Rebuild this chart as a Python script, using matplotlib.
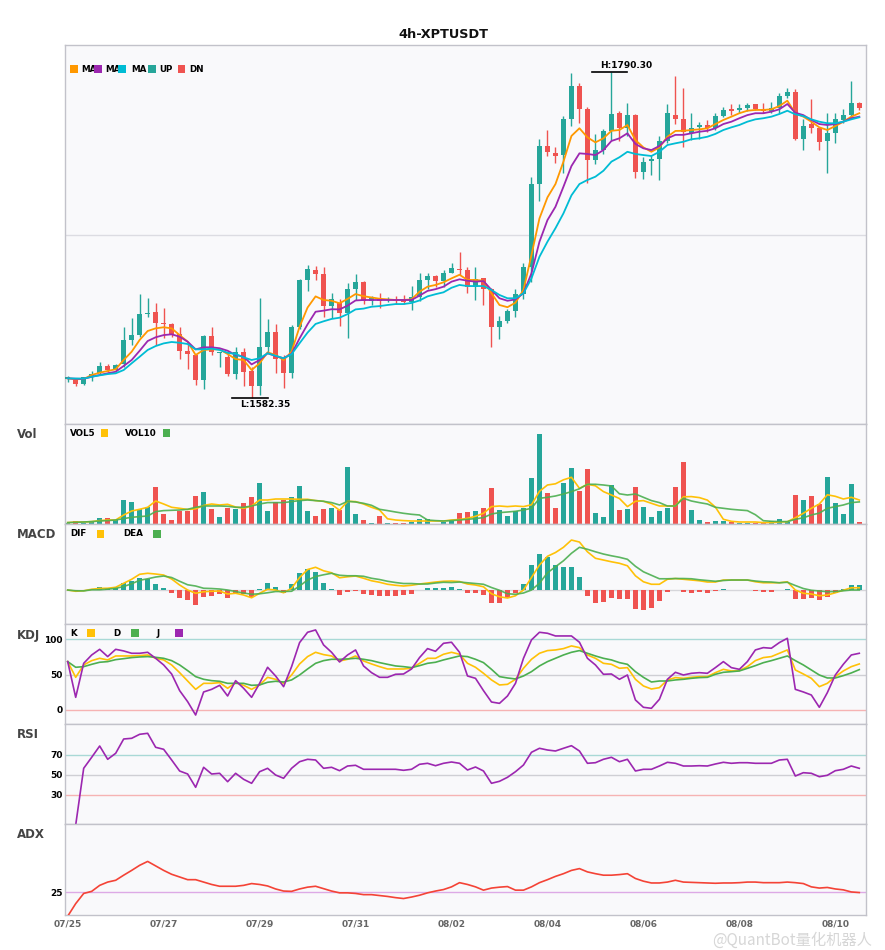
import numpy as np
import matplotlib
matplotlib.use('Agg')
import matplotlib.pyplot as plt
from matplotlib.patches import Rectangle

# ---------------- data ----------------
title = '4h-XPTUSDT'
tick_labels = ['07/25', '07/27', '07/29', '07/31', '08/02', '08/04', '08/06', '08/08', '08/10']

open_ = [1593.9, 1593.5, 1591.0, 1595.4, 1597.8, 1602.5, 1599.9, 1603.7, 1619.1, 1622.2,
         1635.8, 1636.9, 1629.5, 1629.3, 1622.9, 1612.2, 1609.5, 1593.7, 1621.6, 1610.5,
         1608.4, 1597.6, 1611.2, 1599.3, 1589.7, 1614.8, 1624.2, 1606.7, 1598.2, 1627.2,
         1657.4, 1663.7, 1661.2, 1641.0, 1642.9, 1636.1, 1651.6, 1656.1, 1644.0, 1645.0,
         1644.4, 1645.0, 1644.8, 1643.3, 1646.7, 1657.4, 1659.9, 1656.9, 1661.8, 1664.2,
         1663.7, 1653.1, 1658.4, 1651.4, 1627.5, 1631.4, 1637.8, 1648.4, 1665.8, 1718.6,
         1742.9, 1738.2, 1737.1, 1759.9, 1781.2, 1766.7, 1734.0, 1740.3, 1752.5, 1764.1,
         1754.2, 1762.6, 1726.5, 1733.3, 1734.4, 1746.3, 1762.6, 1760.1, 1751.0, 1755.2,
         1756.3, 1754.2, 1762.0, 1766.5, 1765.9, 1767.0, 1769.7, 1766.5, 1765.5, 1767.4,
         1774.8, 1777.5, 1747.3, 1756.9, 1754.4, 1746.3, 1751.0, 1759.5, 1762.6, 1770.5]
high = [1596.1, 1594.2, 1595.6, 1599.3, 1605.0, 1603.5, 1603.7, 1627.2, 1633.0, 1648.4,
        1645.7, 1642.5, 1639.3, 1630.1, 1627.2, 1618.0, 1609.8, 1622.2, 1627.5, 1611.6,
        1611.6, 1614.4, 1613.8, 1601.6, 1645.7, 1632.3, 1629.1, 1609.5, 1628.6, 1658.0,
        1667.0, 1666.3, 1665.5, 1649.2, 1645.0, 1655.2, 1661.4, 1656.6, 1647.1, 1648.9,
        1646.3, 1647.1, 1647.8, 1653.5, 1661.6, 1662.0, 1660.3, 1663.7, 1668.4, 1675.0,
        1665.6, 1665.8, 1658.8, 1652.0, 1634.4, 1638.6, 1651.4, 1668.4, 1723.3, 1747.4,
        1753.1, 1742.0, 1762.0, 1789.6, 1783.3, 1767.6, 1750.6, 1753.5, 1790.3, 1765.4,
        1770.5, 1763.0, 1736.1, 1737.1, 1749.3, 1769.7, 1787.6, 1780.1, 1763.8, 1758.4,
        1759.5, 1763.8, 1768.0, 1769.5, 1769.5, 1770.5, 1770.0, 1770.5, 1771.2, 1776.6,
        1779.7, 1779.0, 1759.9, 1772.7, 1754.8, 1764.1, 1763.8, 1766.3, 1784.6, 1771.2]
low = [1592.0, 1589.9, 1590.5, 1593.1, 1597.5, 1598.8, 1599.3, 1602.0, 1615.9, 1621.2,
       1633.9, 1615.9, 1620.1, 1620.8, 1606.7, 1600.5, 1590.3, 1588.0, 1609.5, 1602.0,
       1596.1, 1593.9, 1589.7, 1582.35, 1584.0, 1611.4, 1598.2, 1588.6, 1595.0, 1626.3,
       1650.5, 1657.4, 1633.5, 1633.1, 1628.2, 1620.5, 1644.6, 1642.0, 1641.4, 1639.3,
       1643.3, 1642.0, 1642.0, 1638.2, 1644.1, 1651.4, 1653.1, 1653.1, 1661.6, 1660.5,
       1648.9, 1644.6, 1641.4, 1614.8, 1619.9, 1630.1, 1633.5, 1645.0, 1656.3, 1708.0,
       1736.5, 1732.2, 1725.5, 1755.6, 1757.4, 1719.5, 1731.4, 1737.8, 1746.7, 1746.3,
       1749.3, 1722.3, 1721.6, 1724.4, 1721.2, 1744.6, 1756.9, 1742.1, 1746.7, 1747.2,
       1752.0, 1753.1, 1761.2, 1762.6, 1764.1, 1765.4, 1765.9, 1763.8, 1763.8, 1764.1,
       1773.3, 1746.7, 1740.3, 1751.0, 1740.3, 1725.5, 1744.6, 1757.4, 1761.6, 1765.9]
close = [1595.2, 1591.2, 1595.4, 1597.3, 1602.5, 1599.9, 1602.9, 1619.1, 1622.2, 1635.6,
         1636.5, 1630.1, 1629.1, 1622.9, 1612.2, 1610.3, 1593.7, 1621.6, 1611.4, 1610.9,
         1597.6, 1611.2, 1598.8, 1589.7, 1614.6, 1624.2, 1606.7, 1598.2, 1627.2, 1657.4,
         1664.2, 1661.4, 1641.0, 1645.0, 1636.1, 1651.6, 1656.1, 1644.1, 1646.1, 1644.1,
         1645.0, 1644.0, 1643.3, 1646.3, 1657.2, 1659.9, 1656.9, 1661.8, 1665.0, 1663.7,
         1652.7, 1657.8, 1651.4, 1627.5, 1631.2, 1637.8, 1648.4, 1665.8, 1718.6, 1742.9,
         1739.0, 1736.5, 1759.9, 1781.2, 1766.7, 1734.0, 1740.3, 1752.5, 1763.3, 1754.2,
         1762.6, 1726.5, 1732.9, 1734.4, 1746.3, 1764.1, 1760.1, 1751.6, 1754.2, 1756.3,
         1754.2, 1762.0, 1765.9, 1765.5, 1767.2, 1769.0, 1766.5, 1765.5, 1767.4, 1774.8,
         1777.5, 1747.3, 1755.6, 1754.4, 1745.6, 1751.0, 1759.9, 1762.6, 1770.5, 1767.1]

ma_fast = [1594.6, 1594.0, 1594.2, 1596.7, 1598.2, 1599.3, 1600.4, 1606.3, 1611.6, 1619.1,
           1624.8, 1626.5, 1627.2, 1626.5, 1622.2, 1618.0, 1609.5, 1612.7, 1613.1, 1613.1,
           1610.1, 1606.9, 1606.3, 1599.9, 1604.2, 1611.2, 1609.5, 1606.3, 1611.6, 1627.5,
           1639.8, 1646.9, 1644.6, 1644.1, 1642.5, 1645.3, 1648.4, 1647.0, 1646.2, 1645.4,
           1645.0, 1644.6, 1644.6, 1645.0, 1649.9, 1653.1, 1654.2, 1655.9, 1658.4, 1660.7,
           1657.4, 1657.4, 1656.9, 1648.9, 1641.4, 1640.0, 1642.9, 1651.0, 1673.3, 1696.7,
           1710.1, 1718.6, 1732.9, 1749.3, 1754.2, 1748.4, 1745.2, 1747.8, 1752.6, 1753.1,
           1756.3, 1746.7, 1742.0, 1739.2, 1742.0, 1748.8, 1752.5, 1752.6, 1753.1, 1753.5,
           1754.2, 1756.9, 1759.5, 1761.6, 1763.8, 1765.4, 1765.9, 1765.9, 1766.3, 1768.4,
           1771.8, 1763.8, 1761.6, 1758.4, 1754.8, 1753.1, 1755.6, 1758.4, 1761.6, 1763.8]
ma_mid = [1594.6, 1594.3, 1594.3, 1595.6, 1596.7, 1597.8, 1598.8, 1602.5, 1606.3, 1612.2,
          1618.4, 1620.8, 1622.2, 1622.7, 1621.2, 1618.0, 1613.1, 1614.4, 1614.4, 1613.8,
          1612.2, 1609.5, 1608.4, 1603.5, 1606.3, 1610.6, 1608.8, 1607.4, 1610.3, 1620.1,
          1629.1, 1637.1, 1637.8, 1638.7, 1638.6, 1641.0, 1644.3, 1644.6, 1644.6, 1644.6,
          1644.6, 1644.6, 1644.6, 1644.6, 1647.4, 1650.4, 1651.5, 1653.1, 1656.3, 1657.8,
          1656.9, 1656.3, 1656.7, 1651.0, 1645.7, 1644.1, 1645.0, 1648.9, 1661.6, 1681.8,
          1695.6, 1704.1, 1716.9, 1730.1, 1738.2, 1737.8, 1737.1, 1740.3, 1746.1, 1747.8,
          1751.0, 1744.2, 1741.4, 1740.3, 1742.9, 1747.8, 1750.0, 1750.0, 1751.0, 1752.0,
          1752.6, 1754.2, 1756.9, 1758.4, 1760.6, 1762.6, 1763.8, 1763.8, 1764.8, 1766.3,
          1769.7, 1764.1, 1762.6, 1759.5, 1756.9, 1756.3, 1756.9, 1758.4, 1760.6, 1761.6]
ma_slow = [1594.6, 1594.5, 1594.4, 1595.6, 1596.5, 1597.3, 1597.8, 1599.9, 1604.2, 1608.4,
           1612.7, 1615.2, 1616.9, 1617.8, 1617.3, 1616.5, 1613.1, 1613.1, 1613.5, 1612.7,
           1610.9, 1610.1, 1608.0, 1606.3, 1607.4, 1610.6, 1609.0, 1607.4, 1610.0, 1617.0,
           1623.8, 1629.3, 1631.0, 1632.5, 1633.3, 1635.6, 1638.6, 1639.1, 1640.3, 1640.7,
           1641.4, 1642.0, 1642.0, 1642.7, 1644.3, 1646.9, 1648.3, 1649.5, 1652.4, 1654.2,
           1653.5, 1653.5, 1653.5, 1651.0, 1647.8, 1645.7, 1645.7, 1648.9, 1658.4, 1672.2,
           1681.8, 1690.4, 1699.9, 1711.4, 1718.6, 1721.2, 1723.3, 1727.1, 1732.9, 1735.7,
           1739.2, 1737.8, 1737.1, 1736.5, 1739.2, 1743.5, 1744.6, 1745.6, 1747.2, 1747.8,
           1748.8, 1750.6, 1753.1, 1754.8, 1756.3, 1758.4, 1759.9, 1760.6, 1761.6, 1763.3,
           1765.4, 1763.1, 1762.0, 1759.9, 1758.4, 1757.4, 1757.4, 1758.4, 1759.9, 1761.2]

volume = [1.7, 3.3, 1.7, 3.3, 6.3, 6.3, 4.3, 24.3, 22.3, 15.0,
          17.0, 37.3, 10.3, 4.3, 13.3, 13.3, 28.3, 32.3, 15.3, 7.3,
          16.3, 15.3, 21.3, 27.3, 41.3, 13.3, 22.3, 24.3, 27.3, 38.3,
          13.3, 8.3, 15.3, 16.3, 14.3, 57.3, 10.3, 4.3, 1.3, 8.3,
          1.3, 1.3, 1.3, 2.3, 5.3, 5.3, 0.7, 2.5, 3.3, 11.3,
          12.3, 13.3, 16.3, 36.3, 14.3, 8.3, 13.3, 16.3, 46.3, 90.3,
          31.3, 16.3, 41.3, 56.3, 33.3, 55.3, 11.3, 7.3, 39.3, 14.3,
          15.3, 37.3, 17.3, 7.3, 13.3, 16.3, 37.3, 62.3, 14.3, 4.3,
          2.3, 3.3, 3.3, 2.3, 1.3, 1.3, 1.3, 1.3, 3.3, 5.3,
          2.3, 29.3, 24.3, 28.3, 20.3, 47.3, 21.3, 10.3, 40.3, 2.3]
vol5 = [1.7, 2.3, 2.3, 2.7, 3.7, 4.3, 4.3, 9.3, 13.3, 15.0,
        17.0, 23.3, 20.3, 17.0, 16.0, 14.8, 15.5, 18.8, 20.3, 19.3,
        20.0, 17.3, 16.0, 18.3, 24.3, 24.3, 25.3, 25.3, 25.3, 25.0,
        25.0, 23.7, 23.0, 20.0, 14.0, 23.0, 22.7, 20.3, 17.0, 14.3,
        5.5, 4.3, 3.7, 3.3, 3.3, 3.3, 3.3, 3.3, 4.3, 4.8,
        6.0, 8.0, 11.0, 17.7, 18.3, 17.7, 18.3, 17.7, 19.5, 33.0,
        39.3, 40.5, 44.5, 47.0, 36.0, 40.0, 38.5, 32.7, 29.3, 25.8,
        17.7, 23.0, 23.7, 21.0, 18.3, 18.3, 18.3, 27.5, 27.7, 26.7,
        24.2, 17.2, 5.0, 3.0, 2.3, 2.3, 2.3, 1.7, 1.7, 2.3,
        2.6, 6.5, 11.0, 16.0, 20.3, 29.5, 28.0, 25.3, 27.0, 24.3]
vol10 = [1.7, 2.0, 2.3, 2.7, 3.3, 3.7, 4.3, 5.7, 7.0, 7.7,
         8.3, 12.7, 13.7, 14.0, 14.3, 15.0, 17.0, 18.3, 18.3, 18.3,
         18.0, 17.0, 17.0, 18.3, 20.3, 21.7, 21.7, 21.7, 22.7, 23.7,
         24.3, 23.7, 23.0, 21.7, 19.3, 23.0, 22.3, 21.0, 19.0, 15.0,
         13.7, 12.3, 11.0, 10.0, 9.3, 4.3, 3.7, 3.3, 3.7, 4.3,
         5.0, 5.7, 6.7, 10.3, 11.7, 12.3, 13.0, 14.3, 16.0, 26.0,
         27.0, 28.3, 30.3, 32.7, 35.5, 40.0, 40.0, 39.3, 38.3, 30.5,
         29.3, 30.3, 27.0, 23.7, 21.7, 18.3, 18.3, 26.0, 23.3, 21.7,
         20.3, 17.0, 16.0, 15.0, 14.3, 13.7, 9.6, 3.6, 3.0, 2.7,
         2.7, 5.0, 6.5, 9.3, 11.2, 16.0, 17.7, 19.3, 21.7, 22.4]

dif = [0.0, -0.5, -0.3, 0.3, 0.65, 0.7, 1.1, 2.7, 4.3, 6.3,
       6.7, 6.4, 6.0, 4.4, 2.0, 0.0, -1.3, -0.7, -0.5, -0.4,
       -1.6, -1.3, -2.0, -3.1, -1.3, 0.3, 0.0, -1.1, 0.7, 5.0,
       8.2, 9.1, 7.7, 6.9, 4.9, 5.3, 5.6, 4.7, 3.7, 3.1,
       2.3, 1.9, 1.6, 1.9, 2.4, 2.8, 3.2, 3.5, 3.6, 3.4,
       2.4, 2.0, 1.3, -1.5, -2.7, -3.2, -2.3, 0.0, 5.0, 10.0,
       13.5, 15.0, 17.1, 20.0, 19.2, 15.3, 12.7, 12.0, 11.3, 10.7,
       9.7, 5.7, 3.3, 2.3, 2.3, 4.3, 4.6, 4.3, 4.0, 3.7,
       3.2, 3.2, 4.0, 4.0, 4.0, 4.0, 3.3, 2.9, 2.9, 2.9,
       3.3, 0.0, -1.3, -1.6, -2.3, -2.0, -1.1, -0.1, 0.9, 0.9]
dea = [0.0, -0.3, -0.35, 0.1, 0.1, 0.35, 0.65, 1.4, 2.5, 3.9,
       4.5, 5.2, 5.6, 5.0, 3.5, 2.1, 1.6, 0.7, 0.6, 0.4,
       0.0, -0.6, -1.2, -1.7, -1.5, -1.1, -0.6, -0.6, -0.5, 1.6,
       4.0, 5.4, 6.1, 6.7, 5.9, 5.7, 5.7, 5.5, 4.7, 4.2,
       3.5, 3.0, 2.6, 2.6, 2.4, 2.4, 2.8, 3.1, 3.0, 3.2,
       2.9, 2.6, 2.3, 1.0, -0.1, -1.5, -1.7, -1.2, 0.0, 2.7,
       6.9, 9.3, 11.7, 14.7, 17.1, 16.3, 15.3, 14.4, 13.7, 13.1,
       12.3, 9.5, 7.3, 5.9, 4.5, 4.5, 4.6, 4.6, 4.5, 4.1,
       3.8, 3.5, 3.8, 4.0, 4.0, 4.0, 3.6, 3.3, 3.2, 2.9,
       3.1, 1.8, 0.6, -0.1, -0.4, -0.7, -0.6, -0.3, 0.0, 0.0]
macd_hist = [0.0, -0.3, 0.1, 0.4, 1.1, 0.7, 0.9, 2.7, 3.5, 4.8,
             4.4, 2.4, 0.8, -1.1, -3.1, -4.0, -6.0, -2.7, -2.3, -1.6,
             -3.1, -1.3, -1.6, -2.7, 0.4, 2.8, 1.3, -1.1, 2.4, 6.8,
             8.4, 7.3, 2.8, 0.4, -1.9, -0.8, -0.2, -1.5, -1.9, -2.3,
             -2.3, -2.3, -1.9, -1.5, 0.0, 0.8, 0.8, 0.8, 1.2, 0.3,
             -1.1, -1.1, -1.9, -5.1, -5.1, -3.3, -1.3, 2.4, 10.0, 14.4,
             13.2, 10.0, 9.2, 9.2, 5.2, -2.3, -5.1, -4.7, -3.1, -3.7,
             -3.5, -7.5, -7.9, -7.1, -4.3, -0.7, 0.0, -0.8, -1.1, -0.8,
             -1.1, -0.4, 0.3, 0.0, 0.0, 0.0, -0.4, -0.7, -0.7, 0.0,
             0.3, -3.5, -3.5, -3.1, -3.9, -2.7, -1.1, 0.4, 1.9, 1.9]

kdj_k = [68.4, 46.2, 63.7, 69.8, 73.1, 70.8, 76.4, 76.4, 76.4, 76.9,
         77.8, 73.1, 70.8, 63.7, 52.8, 41.0, 29.2, 37.7, 37.7, 38.7,
         30.7, 38.7, 34.9, 29.2, 35.4, 46.2, 43.4, 37.7, 49.5, 65.1,
         75.5, 81.6, 78.3, 76.4, 69.3, 71.7, 76.4, 69.3, 65.1, 61.3,
         58.0, 58.0, 58.0, 59.0, 66.0, 73.1, 73.1, 78.8, 81.6, 78.8,
         66.0, 60.4, 51.9, 42.5, 35.4, 36.3, 43.4, 59.0, 71.7, 80.2,
         84.0, 84.9, 86.8, 90.6, 88.2, 77.8, 73.1, 66.0, 64.6, 59.0,
         59.9, 43.4, 34.0, 29.7, 31.6, 42.5, 45.8, 44.8, 46.2, 47.2,
         47.2, 52.8, 57.5, 55.2, 55.7, 61.3, 69.8, 74.1, 75.5, 80.2,
         84.9, 56.6, 50.9, 44.8, 33.0, 37.7, 47.2, 55.2, 61.3, 65.1]
kdj_d = [68.4, 60.4, 61.3, 64.6, 67.5, 68.4, 71.2, 72.6, 74.1, 75.0,
         75.5, 74.5, 73.1, 69.8, 63.7, 55.7, 47.2, 43.4, 41.5, 40.6,
         37.7, 37.7, 37.7, 34.9, 35.4, 39.2, 40.6, 39.6, 42.5, 49.5,
         58.0, 66.0, 69.8, 71.7, 71.7, 72.2, 73.1, 71.7, 69.8, 67.0,
         64.6, 62.3, 61.3, 59.9, 62.7, 66.0, 67.5, 70.8, 73.6, 76.4,
         75.5, 71.7, 67.0, 57.5, 47.2, 45.3, 43.9, 48.1, 54.2, 62.3,
         68.4, 73.1, 77.8, 81.6, 84.0, 80.2, 76.4, 73.1, 70.8, 67.0,
         64.6, 54.2, 46.2, 39.6, 41.0, 41.0, 42.5, 43.4, 44.8, 45.8,
         46.2, 50.5, 53.3, 54.2, 55.2, 58.9, 62.7, 66.9, 69.8, 73.1,
         76.4, 69.8, 63.7, 56.6, 49.5, 45.3, 45.3, 48.6, 52.4, 57.1]
kdj_j = [68.4, 17.9, 66.0, 77.8, 85.8, 75.5, 85.8, 83.5, 80.2, 80.2,
         81.6, 73.1, 63.7, 50.9, 27.4, 11.8, -7.1, 25.5, 29.2, 34.9,
         19.8, 41.5, 30.7, 17.9, 37.7, 60.4, 48.1, 33.0, 61.3, 95.3,
         109.9, 113.2, 92.0, 81.6, 67.9, 77.8, 84.9, 62.3, 52.8, 46.2,
         46.2, 50.5, 50.9, 58.0, 74.1, 86.8, 83.0, 94.3, 95.8, 81.6,
         48.1, 44.8, 27.4, 11.3, 9.4, 19.8, 37.7, 73.1, 99.1, 109.9,
         108.5, 104.7, 104.7, 104.7, 95.8, 73.1, 63.7, 50.5, 50.9, 43.4,
         49.5, 14.2, 3.8, 2.4, 15.1, 43.4, 53.3, 49.5, 51.9, 52.8,
         51.9, 59.9, 68.4, 59.9, 57.5, 68.4, 84.9, 88.2, 87.3, 95.3,
         101.4, 29.2, 25.5, 21.2, 3.8, 24.5, 49.5, 64.6, 77.8, 80.2]

rsi = [np.nan, 0.0, 56.7, 67.7, 79.0, 65.7, 71.7, 86.0, 86.7, 90.7,
       91.7, 77.7, 75.7, 65.0, 54.0, 51.0, 37.7, 57.7, 51.0, 51.7,
       43.3, 51.7, 45.7, 41.7, 53.3, 56.7, 50.0, 46.7, 56.7, 63.3,
       65.7, 65.0, 56.7, 57.7, 54.3, 59.0, 59.7, 55.7, 55.7, 55.7,
       55.7, 55.7, 54.7, 55.7, 60.7, 61.7, 59.3, 61.7, 63.0, 61.7,
       55.0, 58.0, 54.0, 41.7, 43.7, 47.7, 53.3, 60.0, 72.7, 76.7,
       75.0, 74.0, 76.7, 79.3, 74.0, 61.7, 62.3, 65.7, 67.7, 63.3,
       65.7, 54.0, 55.7, 55.7, 59.0, 62.7, 61.7, 59.0, 59.0, 59.3,
       59.0, 61.0, 62.7, 61.7, 62.3, 62.3, 61.7, 61.7, 61.7, 65.0,
       65.7, 49.0, 52.3, 51.7, 48.3, 49.7, 54.3, 55.7, 59.0, 56.7]
adx = [17.0, 21.2, 24.6, 25.3, 27.3, 28.4, 29.0, 30.7, 32.3, 34.0,
       35.3, 33.8, 32.3, 31.0, 30.1, 29.2, 29.2, 28.4, 27.6, 27.0,
       27.0, 27.0, 27.3, 27.9, 27.6, 27.1, 26.1, 25.4, 25.3, 26.1,
       26.7, 27.0, 26.2, 25.4, 24.8, 24.8, 24.6, 24.2, 24.2, 23.9,
       23.6, 23.2, 22.9, 23.4, 24.0, 24.8, 25.4, 25.9, 26.8, 28.2,
       27.6, 26.8, 25.7, 26.4, 26.7, 26.9, 25.7, 25.7, 26.8, 28.2,
       29.2, 30.3, 31.2, 32.3, 32.9, 31.8, 31.2, 30.7, 30.7, 30.9,
       31.2, 29.6, 28.7, 28.1, 28.1, 28.4, 29.0, 28.4, 28.3, 28.2,
       28.1, 28.0, 28.1, 28.1, 28.2, 28.4, 28.4, 28.2, 28.2, 28.2,
       28.4, 28.2, 27.9, 26.8, 26.4, 26.6, 26.1, 25.8, 25.1, 24.9]

watermark = '@QuantBot量化机器人'

# ---------------- style ----------------
UP, DN = '#26A69A', '#EF5350'
C_MA = ['#FF9800', '#9C27B0', '#00BCD4']
C_Y, C_G, C_P = '#FFC107', '#4CAF50', '#9C27B0'
C_ADX = '#F44336'
FACE = '#F9F9FB'
SPINE = '#C2C2CA'

W, H = 885, 950
fig = plt.figure(figsize=(W / 100, H / 100), dpi=100)
fig.patch.set_facecolor('white')


def fx(px):
    return px / W


def fy(py):
    return 1 - py / H


LEFT, RIGHT = 65.3, 865.7


def add_panel(top, bottom):
    ax = fig.add_axes([fx(LEFT), fy(bottom), fx(RIGHT) - fx(LEFT), (bottom - top) / H])
    ax.set_facecolor(FACE)
    for s in ax.spines.values():
        s.set_color(SPINE)
        s.set_linewidth(1.0)
    ax.tick_params(length=0, labelbottom=False, labelleft=False)
    ax.set_xlim(-0.3, 99.8)
    return ax


ax_main = add_panel(45, 424)
ax_vol = add_panel(424, 524.3)
ax_macd = add_panel(524.3, 624)
ax_kdj = add_panel(624, 724)
ax_rsi = add_panel(724, 824)
ax_adx = add_panel(824, 915)

o = np.array(open_)
h = np.array(high)
lo = np.array(low)
c = np.array(close)
n = len(c)
x = np.arange(n)
cols = np.where(c >= o, UP, DN)

# ---- main candles ----
ylo, yhi = lo.min() - 16.9, h.max() + 17.05
ax_main.set_ylim(ylo, yhi)
ax_main.axhline((ylo + yhi) / 2, color='#DCDCE2', lw=1.0, zorder=1)
ax_main.vlines(x, lo, h, colors=cols, lw=1.0, zorder=2)
body_h = np.maximum(np.abs(c - o), 0.6)
ax_main.bar(x, body_h, bottom=np.minimum(o, c), width=0.66, color=cols, linewidth=0, zorder=3)
for ser, col in zip([ma_fast, ma_mid, ma_slow], C_MA):
    ax_main.plot(x, ser, color=col, lw=1.3, zorder=4)

ih = int(np.argmax(h))
il = int(np.argmin(lo))
ax_main.plot([ih - 2.4, ih + 2.0], [h[ih], h[ih]], color='black', lw=1.2, zorder=5)
ax_main.annotate(f'H:{h[ih]:.2f}', xy=(ih - 1.45, h[ih]), xytext=(0, 1.5), textcoords='offset points',
                 ha='left', va='bottom', fontsize=6.5, fontweight='bold', color='black')
ax_main.plot([il - 2.4, il + 2.0], [lo[il], lo[il]], color='black', lw=1.2, zorder=5)
ax_main.annotate(f'L:{lo[il]:.2f}', xy=(il - 1.45, lo[il]), xytext=(0, -1.5), textcoords='offset points',
                 ha='left', va='top', fontsize=6.5, fontweight='bold', color='black')

# ---- volume ----
ax_vol.set_ylim(0, 100.3)
ax_vol.bar(x, volume, width=0.66, color=cols, linewidth=0, zorder=2)
ax_vol.plot(x, vol5, color=C_Y, lw=1.2, zorder=3)
ax_vol.plot(x, vol10, color=C_G, lw=1.2, alpha=0.9, zorder=3)

# ---- MACD ----
ax_macd.set_ylim(-13.6, 26.3)
ax_macd.axhline(0, color='#D6D6DA', lw=1.0, zorder=1)
hist = np.array(macd_hist)
ax_macd.bar(x, hist, width=0.66, color=np.where(hist >= 0, UP, DN), linewidth=0, zorder=2)
ax_macd.plot(x, dif, color=C_Y, lw=1.2, zorder=3)
ax_macd.plot(x, dea, color=C_G, lw=1.2, alpha=0.9, zorder=3)

# ---- KDJ ----
ax_kdj.set_ylim(-19.8, 121.6)
ax_kdj.axhline(100, color='#A9D9D6', lw=1.0, zorder=1)
ax_kdj.axhline(50, color='#CFCFD4', lw=1.0, zorder=1)
ax_kdj.axhline(0, color='#F6B3B3', lw=1.0, zorder=1)
ax_kdj.plot(x, kdj_k, color=C_Y, lw=1.2, zorder=3)
ax_kdj.plot(x, kdj_d, color=C_G, lw=1.2, zorder=3)
ax_kdj.plot(x, kdj_j, color=C_P, lw=1.2, zorder=3)

# ---- RSI ----
ax_rsi.set_ylim(1, 101)
ax_rsi.axhline(70, color='#A9D9D6', lw=1.0, zorder=1)
ax_rsi.axhline(50, color='#CFCFD4', lw=1.0, zorder=1)
ax_rsi.axhline(30, color='#F6B3B3', lw=1.0, zorder=1)
ax_rsi.plot(x, rsi, color=C_P, lw=1.2, zorder=3)

# ---- ADX ----
ax_adx.set_ylim(17.4, 47.8)
ax_adx.axhline(25, color='#DDAAE6', lw=1.0, zorder=1)
ax_adx.plot(x, adx, color=C_ADX, lw=1.2, zorder=3)

# y tick labels
for ax, ticks in [(ax_kdj, [0, 50, 100]), (ax_rsi, [30, 50, 70]), (ax_adx, [25])]:
    ax.set_yticks(ticks)
    ax.set_yticklabels([str(t) for t in ticks])
    ax.tick_params(axis='y', labelleft=True, length=0, pad=2, labelsize=6.5, labelcolor='black')
    for lab in ax.get_yticklabels():
        lab.set_fontweight('bold')
for ax in [ax_main, ax_vol, ax_macd]:
    ax.set_yticks([])
for ax in [ax_main, ax_vol, ax_macd, ax_kdj, ax_rsi]:
    ax.set_xticks([])

ax_adx.set_xticks(list(range(0, n, 12)))
ax_adx.set_xticklabels(tick_labels)
ax_adx.tick_params(axis='x', labelbottom=True, length=0, pad=3, labelsize=6.5, labelcolor='#666666')
for lab in ax_adx.get_xticklabels():
    lab.set_fontweight('bold')

# ---- title & panel labels ----
fig.text(fx(443.8), fy(34), title, ha='center', va='center', fontsize=9.3, fontweight='bold', color='#111111')
for name, ypx in [('Vol', 435), ('MACD', 535), ('KDJ', 635), ('RSI', 735), ('ADX', 835)]:
    fig.text(fx(17.3), fy(ypx), name, ha='left', va='center', fontsize=8.5, fontweight='bold', color='#444444')


# ---- legends (manual, like the reference) ----
def legend_row(y_text, items, sq_top, sq_size=7.7):
    for kind, xpx, val in items:
        if kind == 't':
            fig.text(fx(xpx), fy(y_text), val, ha='left', va='center', fontsize=6.3,
                     fontweight='bold', color='black', zorder=3)
        else:
            fig.add_artist(Rectangle((fx(xpx), fy(sq_top + sq_size)), sq_size / W, sq_size / H,
                                     transform=fig.transFigure, facecolor=val, edgecolor='none', zorder=4))


legend_row(69, [('s', 70, C_MA[0]), ('t', 81, 'MA'), ('s', 94, C_MA[1]), ('t', 105, 'MA'),
                ('s', 118, C_MA[2]), ('t', 131, 'MA'), ('s', 148.3, UP), ('t', 159.3, 'UP'),
                ('s', 177.7, DN), ('t', 189, 'DN')], 65)
legend_row(434, [('t', 70, 'VOL5'), ('s', 100.7, C_Y), ('t', 125, 'VOL10'), ('s', 162.7, C_G)], 429.3)
legend_row(534, [('t', 70, 'DIF'), ('s', 96.7, C_Y), ('t', 123.3, 'DEA'), ('s', 153, C_G)], 530)
legend_row(634, [('t', 70, 'K'), ('s', 87.3, C_Y), ('t', 113.3, 'D'), ('s', 131, C_G),
                 ('t', 156.7, 'J'), ('s', 175.3, C_P)], 629.3)

# watermark (kept clear of the date labels)
fig.text(fx(872), fy(940), watermark, ha='right', va='center', fontsize=11,
         color='#D2D2D2', alpha=0.9, family=['Noto Sans CJK SC', 'DejaVu Sans'], zorder=5)

fig.savefig('out.png', dpi=100, facecolor='white')
